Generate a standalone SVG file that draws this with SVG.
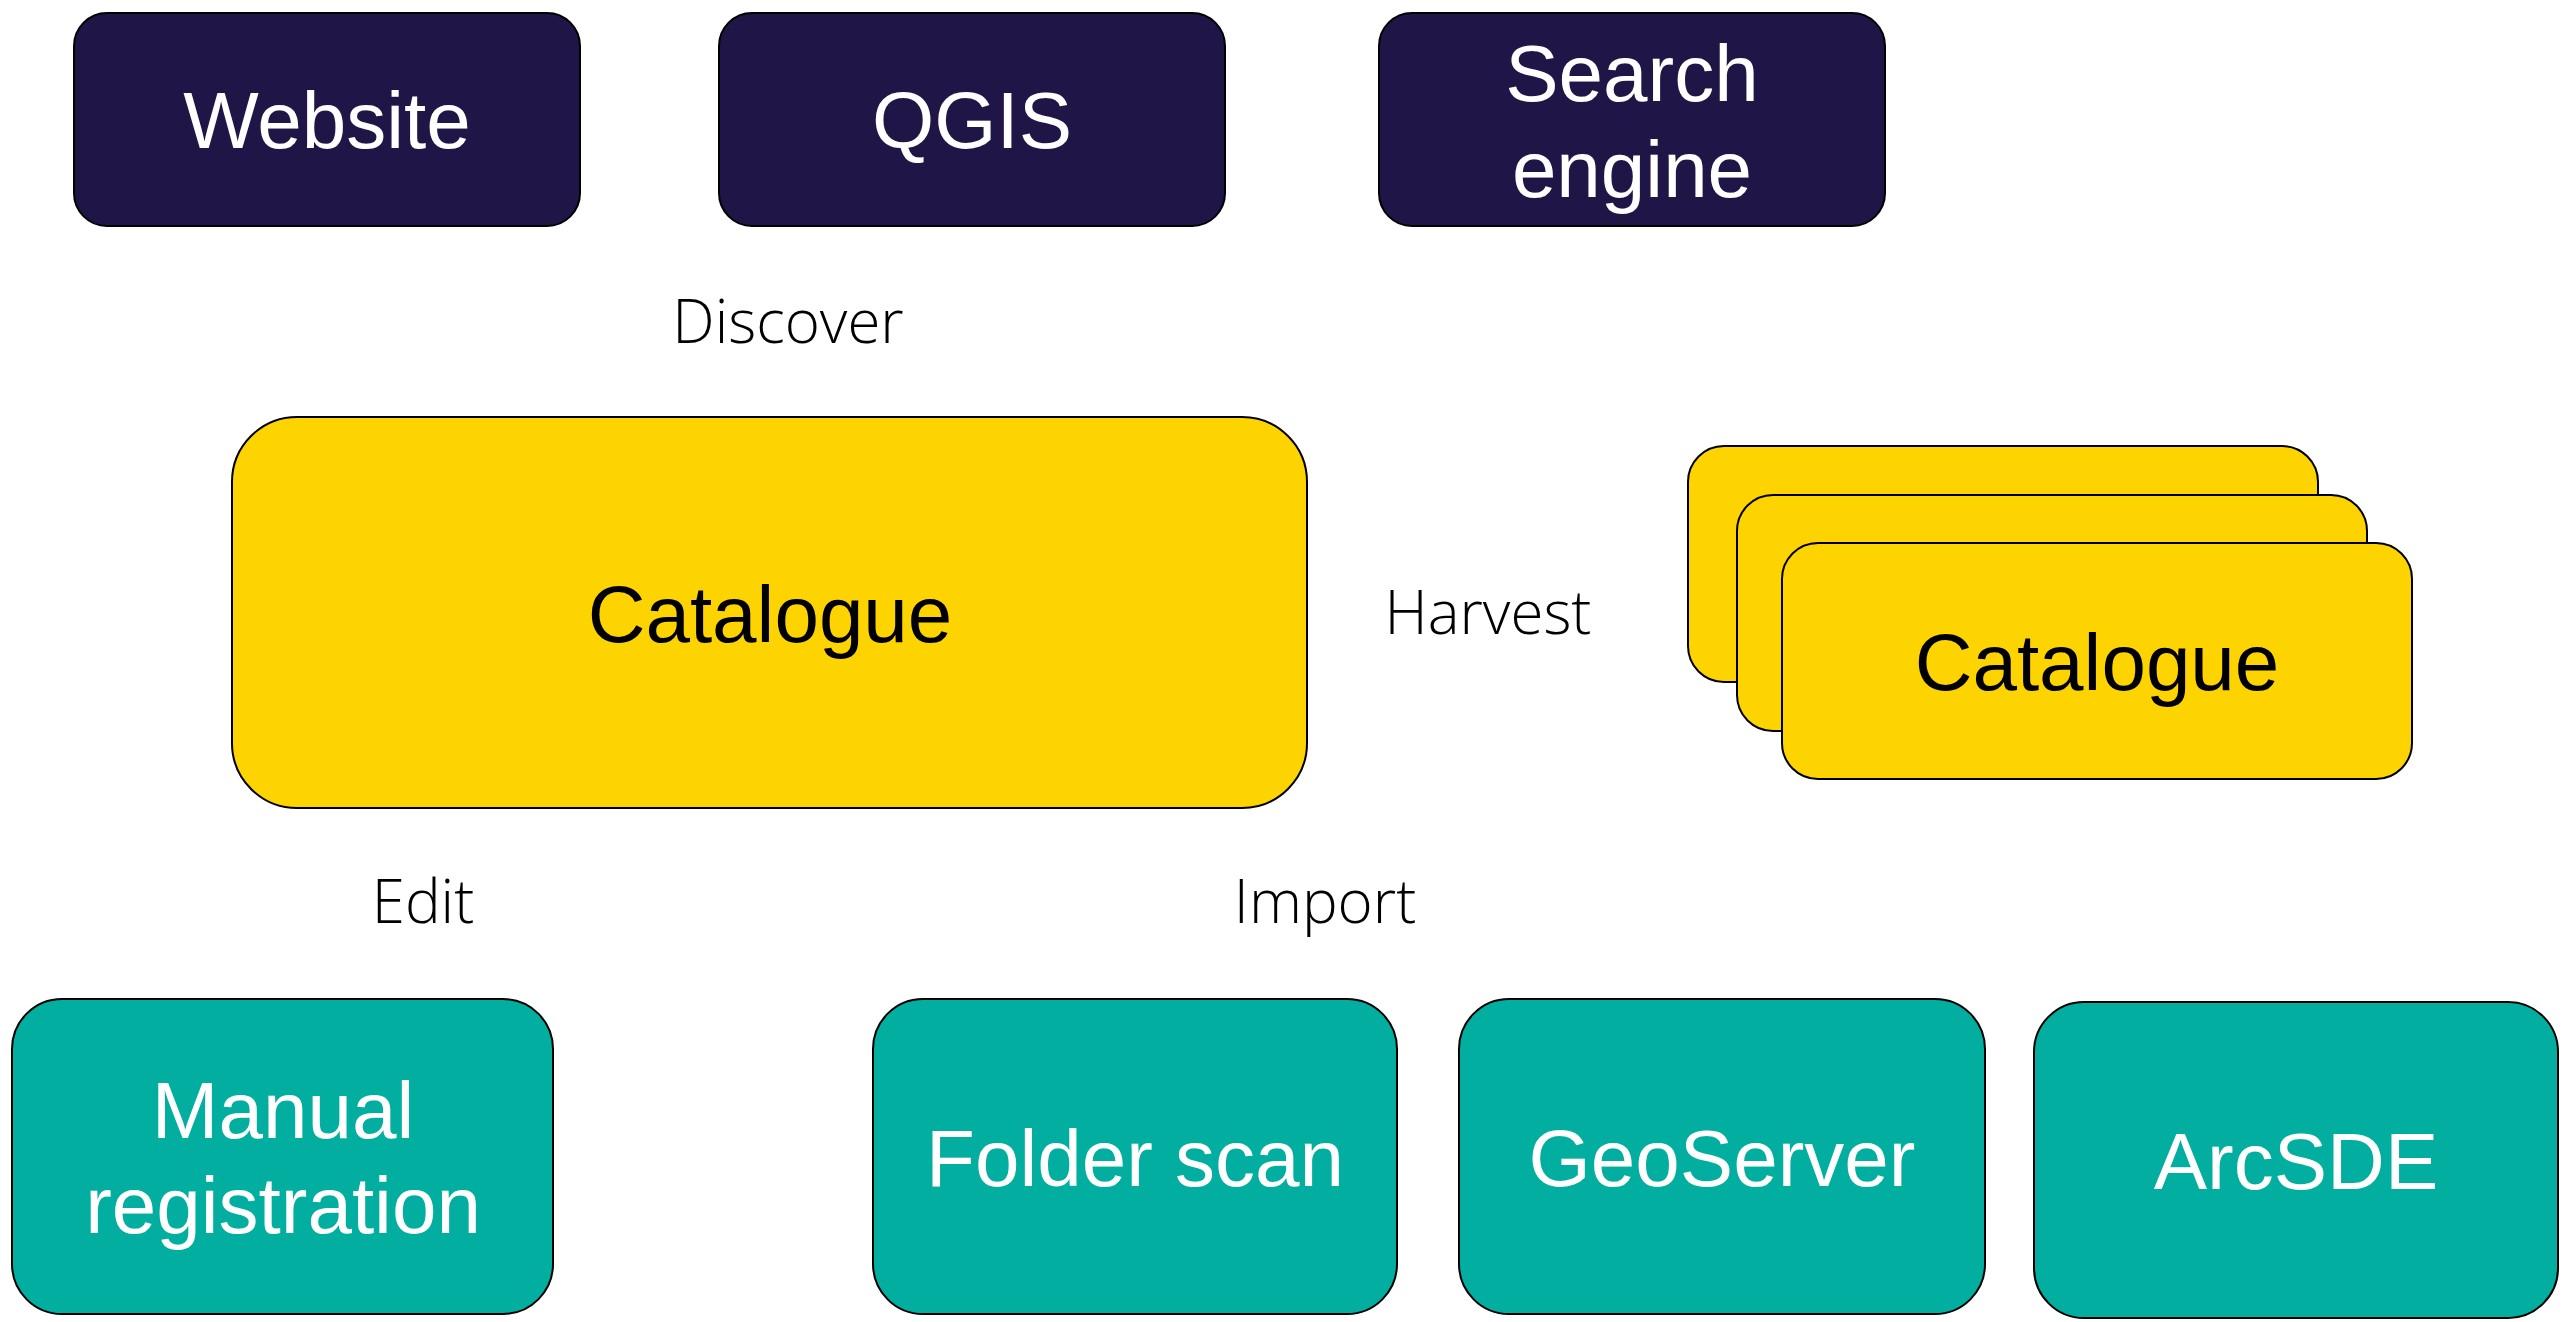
<svg xmlns="http://www.w3.org/2000/svg" width="2569" height="1322" viewBox="0 0 2569 1322">
<style>
.box{stroke:#000;stroke-width:2}
.navy{fill:#201547}
.yellow{fill:#FDD400}
.teal{fill:#02AE9F}
.t{font-family:"Liberation Sans",Arial,sans-serif;font-size:80px;text-anchor:middle}
.w{fill:#fff}
.k{fill:#000}
.lbl{font-family:"Open Sans","Liberation Sans",sans-serif;font-weight:300;font-size:60px;fill:#000;text-anchor:middle}
</style>
<rect width="2569" height="1322" fill="#fff"/>
<g id="website"><rect class="box navy" x="74" y="13" width="506" height="213" rx="33"/><text class="t w" x="327" y="148">Website</text></g>
<g id="qgis"><rect class="box navy" x="719" y="13" width="506" height="213" rx="33"/><text class="t w" x="972" y="148">QGIS</text></g>
<g id="search-engine"><rect class="box navy" x="1379" y="13" width="506" height="213" rx="33"/><text class="t w" x="1632" y="101">Search</text><text class="t w" x="1632" y="197">engine</text></g>
<g id="catalogue-main"><rect class="box yellow" x="232" y="417" width="1075" height="391" rx="65"/><text class="t k" x="770" y="642">Catalogue</text></g>
<g id="catalogue-remote">
<rect class="box yellow" x="1688" y="446" width="630" height="236" rx="36"/>
<rect class="box yellow" x="1737" y="495" width="630" height="236" rx="36"/>
<rect class="box yellow" x="1782" y="543" width="630" height="236" rx="36"/>
<text class="t k" x="2097" y="690">Catalogue</text></g>
<g id="manual-registration"><rect class="box teal" x="12" y="999" width="541" height="315" rx="50"/><text class="t w" x="283" y="1138">Manual</text><text class="t w" x="283" y="1233">registration</text></g>
<g id="folder-scan"><rect class="box teal" x="873" y="999" width="524" height="315" rx="50"/><text class="t w" x="1135" y="1186">Folder scan</text></g>
<g id="geoserver"><rect class="box teal" x="1459" y="999" width="526" height="315" rx="50"/><text class="t w" x="1722" y="1186">GeoServer</text></g>
<g id="arcsde"><rect class="box teal" x="2034" y="1002" width="524" height="316" rx="50"/><text class="t w" x="2296" y="1189">ArcSDE</text></g>
<g id="connectors">
<text class="lbl" x="788" y="343">Discover</text>
<text class="lbl" x="1488" y="634">Harvest</text>
<text class="lbl" x="423" y="923">Edit</text>
<text class="lbl" x="1325" y="923">Import</text>
</g>
</svg>
